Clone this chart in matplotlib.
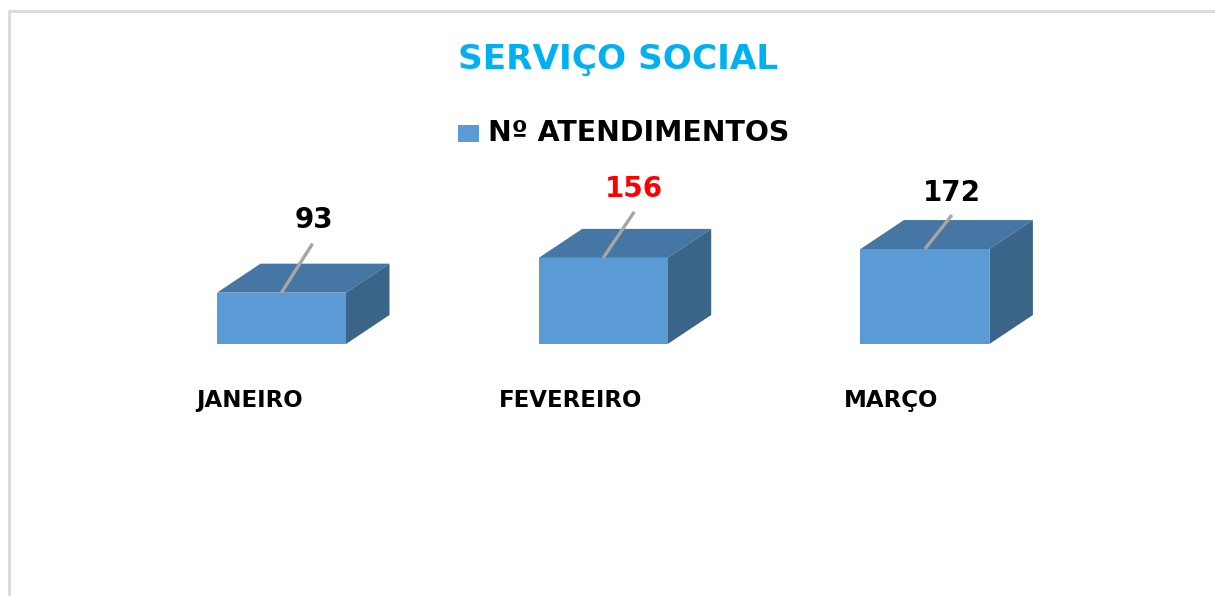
import matplotlib
matplotlib.use("Agg")
import matplotlib.pyplot as plt
from matplotlib.patches import Polygon, Rectangle
from matplotlib.lines import Line2D

months = ["JANEIRO", "FEVEREIRO", "MARÇO"]
atendimentos = [93, 156, 172]
label_colors = ["black", "#ff0000", "black"]
title = "SERVIÇO SOCIAL"
series_name = "Nº ATENDIMENTOS"

W, H = 1215, 596
plt.rcParams['font.family'] = ['DejaVu Sans']
fig = plt.figure(figsize=(W/100, H/100), dpi=100, facecolor="white")

def fx(p): return p / W
def fy(p): return 1 - p / H

# frame of the chart area
fig.add_artist(Line2D([fx(8.5), fx(8.5), fx(1215)], [fy(596), fy(10.5), fy(10.5)],
                      color="#dcdcdc", lw=2.2))

# axes: category 0 at x=281px, spacing 321.7 px; value 0 at y=344px, 0.552 px per unit
SP = 321.7
left, right = 120, 1086
base, top = 344, 344 - 0.552 * 200
ax = fig.add_axes([fx(left), fy(base), (right-left)/W, (base-top)/H])
ax.set_xlim((left-281.5)/SP, (right-281.5)/SP)
ax.set_ylim(0, 200)
ax.axis("off")

bw = 129/SP
dx = 43.5/SP
dy = 29/0.552
FRONT, TOP, SIDE = "#5b9bd5", "#4676a3", "#3a6588"

# leader-line ends and label centres, as pixel offsets from the top-centre of each bar
leader_off = [(31, 49), (31, 46), (27, 34)]
label_off = [(32, 73), (31, 69), (27, 56)]

for i, v in enumerate(atendimentos):
    l, r = i - bw/2, i + bw/2
    ax.add_patch(Polygon([(l, v), (r, v), (r+dx, v+dy), (l+dx, v+dy)], fc=TOP, ec="none", clip_on=False, zorder=2))
    ax.add_patch(Polygon([(r, 0), (r+dx, dy), (r+dx, v+dy), (r, v)], fc=SIDE, ec="none", clip_on=False, zorder=2))
    ax.add_patch(Rectangle((l, 0), bw, v, fc=FRONT, ec="none", clip_on=False, zorder=3))
    ox, oy = leader_off[i]
    ax.plot([i, i + ox/SP], [v, v + oy/0.552], color="#a6a6a6", lw=2.4, zorder=4,
            solid_capstyle="butt", clip_on=False)
    ax.annotate(str(v), (i, v), xytext=label_off[i], textcoords="offset pixels",
                ha="center", va="center", fontsize=20, fontweight="bold",
                color=label_colors[i], zorder=5)

label_px = [250, 571, 891.5]
for name, px in zip(months, label_px):
    fig.text(fx(px), fy(407), name, ha="center", va="baseline", fontsize=16.5,
             fontweight="bold", color="black")

fig.text(fx(618), fy(60), title, ha="center", va="center", fontsize=24.7, fontweight="bold",
         color="#00b0f0")

fig.add_artist(Rectangle((fx(458), fy(142)), 21/W, 17/H, transform=fig.transFigure, fc=FRONT, ec="none"))
fig.text(fx(488), fy(133), series_name, ha="left", va="center", fontsize=20.4, fontweight="bold",
         color="black")

fig.savefig("out.png", dpi=100, facecolor="white")
